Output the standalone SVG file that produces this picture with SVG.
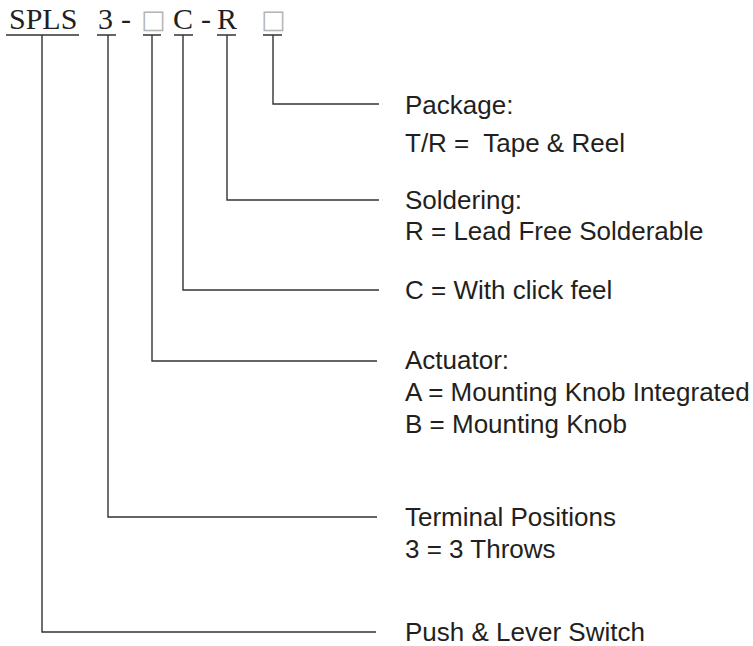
<svg xmlns="http://www.w3.org/2000/svg" width="753" height="646" viewBox="0 0 753 646">
<style>
.hd{font-family:"Liberation Serif","Times New Roman",serif;font-size:30px;fill:#231f20}
.bx{font-family:"DejaVu Sans",sans-serif;font-size:26px;fill:#b4b4b4}
.lb{font-family:"Liberation Sans",Arial,sans-serif;font-size:26px;fill:#231f20;white-space:pre}
.ln{stroke:#333;stroke-width:1.4;fill:none}
</style>
<rect width="753" height="646" fill="#fff"/>
<g id="header">
<text class="hd" x="9" y="29">SPLS</text>
<text class="hd" x="98" y="29">3</text>
<text class="hd" x="121" y="29">-</text>
<text class="bx" x="141" y="28">□</text>
<text class="hd" x="173" y="29">C</text>
<text class="hd" x="201" y="29">-</text>
<text class="hd" x="217" y="29">R</text>
<text class="bx" x="261" y="28">□</text>
<path class="ln" d="M6 35H79M97 35H116M143 35H161M174 35H193M217 35H236M263 35H282"/>
</g>
<g id="connectors">
<path class="ln" d="M273 35V104H379"/>
<path class="ln" d="M227 35V200H379"/>
<path class="ln" d="M183 35V290H379"/>
<path class="ln" d="M152 35V361H377"/>
<path class="ln" d="M108 35V517H377"/>
<path class="ln" d="M42 35V632H376"/>
</g>
<g id="package"><text class="lb" x="405" y="114">Package:</text><text class="lb" x="405" y="152">T/R =  Tape &amp; Reel</text></g>
<g id="soldering"><text class="lb" x="405" y="209">Soldering:</text><text class="lb" x="405" y="240">R = Lead Free Solderable</text></g>
<g id="click"><text class="lb" x="405" y="299">C = With click feel</text></g>
<g id="actuator"><text class="lb" x="405" y="369">Actuator:</text><text class="lb" x="405" y="401">A = Mounting Knob Integrated</text><text class="lb" x="405" y="433">B = Mounting Knob</text></g>
<g id="terminal"><text class="lb" x="405" y="526">Terminal Positions</text><text class="lb" x="405" y="558">3 = 3 Throws</text></g>
<g id="switch"><text class="lb" x="405" y="641">Push &amp; Lever Switch</text></g>
</svg>
